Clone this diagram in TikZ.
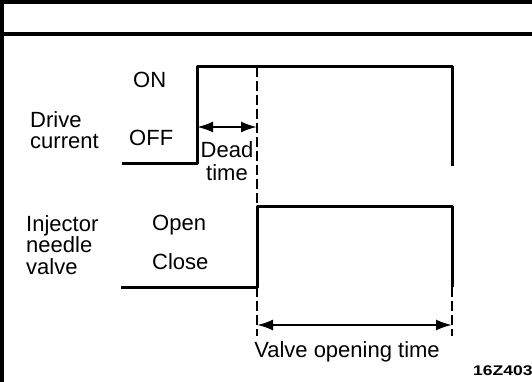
\documentclass[tikz,border=0pt]{standalone}
\usepackage{fontspec}
\usepackage{graphicx}
\setmainfont{Liberation Sans}
\usetikzlibrary{arrows.meta,positioning}

\begin{document}
\begin{tikzpicture}[x=1pt,y=-1pt,
  frame/.style={line width=3.5pt},
  wave/.style={line width=3pt, line join=round},
  guide/.style={line width=1.3pt, dash pattern=on 10pt off 4pt},
  span/.style={line width=2.2pt, {Latex[length=16pt,width=11pt]}-{Latex[length=16pt,width=11pt]}},
  lbl/.style={font=\fontsize{22}{22}\selectfont, inner sep=0pt, align=left, anchor=north west},
  tag/.style={font=\fontsize{14}{16}\selectfont\bfseries, inner sep=0pt, anchor=base west}]
\useasboundingbox (0,0) rectangle (532,382);

% Frame
\draw[frame] (2,0) -- (2,382);
\draw[frame] (0,2) -- (532,2);
\draw[frame] (0,34) -- (532,34);

% Drive current
\coordinate (d0) at (122,164);
\coordinate (d1) at (197,164);
\coordinate (d2) at (197,67);
\coordinate (d3) at (452,67);
\coordinate (d4) at (452,166);
\draw[wave] (d0) -- (d1) -- (d2) -- (d3) -- (d4);

% Injector needle valve
\coordinate (i0) at (121,287);
\coordinate (i1) at (257,287);
\coordinate (i2) at (257,206);
\coordinate (i3) at (452,206);
\coordinate (i4) at (452,287);
\draw[wave] (i0) -- (i1) -- (i2) -- (i3) -- (i4);

% Guides
\coordinate (g0) at (257,67);
\coordinate (g1) at (257,336);
\coordinate (g2) at (452,336);
\draw[guide] (g0) -- (i2);
\draw[guide] (i1) -- (g1);
\draw[guide] (i4) -- (g2);

% Spans
\coordinate (dl) at (197,127);
\coordinate (dr) at (257,127);
\draw[span] (dl) -- (dr);
\coordinate (vl) at (257,325);
\coordinate (vr) at (452,325);
\draw[span] (vl) -- (vr);

% Labels
\node[lbl, font=\fontsize{22}{21}\selectfont] (drive) at (30,111) {Drive\\current};
\node[lbl] (on) at (133,72) {ON};
\node[lbl] (off) at (129,130) {OFF};
\node[lbl, align=center, anchor=north, font=\fontsize{22}{23}\selectfont] (dead) at (227,141) {Dead\\time};
\node[lbl, font=\fontsize{22}{21.5}\selectfont] (injector) at (26,215) {Injector\\needle\\valve};
\node[lbl] (open) at (152,215) {Open};
\node[lbl] (close) at (152,253) {Close};
\node[lbl, anchor=base] (opening) at (347,357) {Valve opening time};
\node[tag] (code) at (473,375) {\scalebox{1.25}[1]{16Z403}};

\end{tikzpicture}
\end{document}
